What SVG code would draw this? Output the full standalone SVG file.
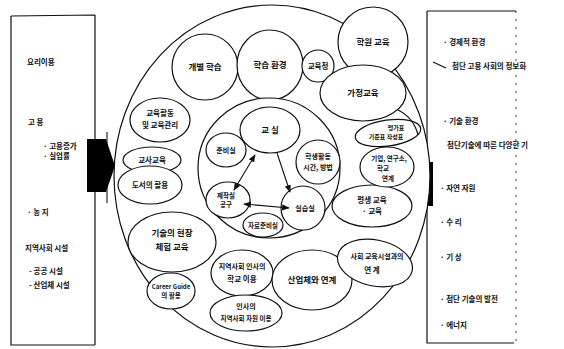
<svg xmlns="http://www.w3.org/2000/svg" width="564" height="349" viewBox="0 0 564 349">
<defs>
<style>
.n{fill:#fff;stroke:#111;stroke-width:1.2}
.o{fill:none;stroke:#111;stroke-width:1.2}
.t{font-family:"Noto Sans CJK KR","Noto Sans",sans-serif;font-size:8.5px;font-weight:600;fill:#111;text-anchor:middle}
.s{font-family:"Noto Sans CJK KR","Noto Sans",sans-serif;font-size:7.5px;font-weight:600;fill:#111}
.c{stroke:#111;stroke-width:1.1;fill:none}
</style>
<marker id="ah" viewBox="0 0 10 10" refX="9" refY="5" markerWidth="7" markerHeight="7" orient="auto-start-reverse">
<path d="M0,1 L10,5 L0,9 z" fill="#111"/>
</marker>
</defs>
<rect width="564" height="349" fill="#fff"/>

<g id="left-panel">
<path class="o" d="M11,16 L95,15 M11,16 L11,345 L95,345 M95,15 L95,345"/>
<text class="s" x="27" y="65">요리이용</text>
<text class="s" x="28" y="125">고  용</text>
<text class="s" x="43" y="149">· 고용증가</text>
<text class="s" x="43" y="159">· 실업률</text>
<text class="s" x="27" y="215">· 농  지</text>
<text class="s" x="25" y="251">지역사회 시설</text>
<text class="s" x="29" y="274">- 공공 시설</text>
<text class="s" x="29" y="288">- 산업체 시설</text>
</g>

<g id="right-panel">
<path class="o" d="M427,11 L516,11 M427,11 L427,343 L514,343"/>
<path d="M516,11 L516,343" stroke="#111" stroke-width="0.8" stroke-dasharray="2,6" fill="none"/>
<path class="o" d="M433,62 L446,68"/>
<text class="s" x="443" y="45">· 경제적 환경</text>
<text class="s" x="452" y="69">첨단 고용 사회의 정보화</text>
<text class="s" x="443" y="124">· 기술 환경</text>
<text class="s" x="447" y="148">첨단기술에 따른 다양한 기</text>
<text class="s" x="440" y="191">· 자연 자원</text>
<text class="s" x="440" y="225">· 수 리</text>
<text class="s" x="440" y="260">· 기 상</text>
<text class="s" x="440" y="302">· 첨단 기술의 발전</text>
<text class="s" x="440" y="328">· 에너지</text>
</g>

<g id="left-link">
<polygon points="87,139 106,139 115,166 106,192 87,192" fill="#000"/>
<path d="M107,132 L107,203" stroke="#000" stroke-width="1"/>
</g>
<g id="right-link">
<polygon points="433,162 418,162 410,184 418,206 433,206" fill="#000"/>
</g>

<g id="outer-circle"><ellipse class="n" cx="272" cy="176" rx="158" ry="171"/></g>

<g id="n-gaebyeol"><ellipse class="n" cx="205" cy="67" rx="33" ry="33"/><text class="t" x="205" y="70">개별 학습</text></g>
<g id="n-hakseup"><ellipse class="n" cx="270" cy="65" rx="33" ry="35"/><text class="t" x="270" y="68">학습 환경</text></g>
<g id="n-gyoyukcheong"><ellipse class="n" cx="318" cy="66" rx="16" ry="16"/><text class="t" x="318" y="69" style="font-size:7.5px">교육청</text></g>
<g id="n-hagwon"><ellipse class="n" cx="373" cy="42" rx="35" ry="35"/><text class="t" x="373" y="45">학원 교육</text></g>
<g id="n-gajeong"><ellipse class="n" cx="363" cy="93" rx="43" ry="28"/><text class="t" x="363" y="96">가정교육</text></g>
<g id="n-hwaldong"><ellipse class="n" cx="160" cy="120" rx="30" ry="22"/><text class="t" x="160" y="116" style="font-size:7.5px">교육활동</text><text class="t" x="160" y="128" style="font-size:7.5px">및 교육관리</text></g>
<g id="n-gyosa"><ellipse class="n" cx="152" cy="160" rx="29" ry="13"/><text class="t" x="152" y="163" style="font-size:7.5px">교사교육</text></g>
<g id="n-doseo"><ellipse class="n" cx="150" cy="185" rx="32" ry="19"/><text class="t" x="150" y="188" style="font-size:7.5px">도서의 활용</text></g>
<g id="n-hyeonjang"><ellipse class="n" cx="172" cy="242" rx="44" ry="30"/><text class="t" x="172" y="236">기술의 현장</text><text class="t" x="172" y="250">체험 교육</text></g>
<g id="n-career"><ellipse class="n" cx="171" cy="291" rx="24" ry="18"/><text class="t" x="171" y="289" style="font-size:6px">Career Guide</text><text class="t" x="171" y="298" style="font-size:6.5px">의 활용</text></g>

<g id="n-inner"><ellipse class="n" cx="269" cy="168" rx="71" ry="70"/></g>
<g id="n-gyosil"><ellipse class="n" cx="270" cy="130" rx="30" ry="23"/><text class="t" x="270" y="133">교 실</text></g>
<g id="n-junbi"><ellipse class="n" cx="226" cy="150" rx="20" ry="17"/><text class="t" x="226" y="153" style="font-size:7px">준비실</text></g>
<g id="n-haksaeng"><ellipse class="n" cx="318" cy="162" rx="22" ry="22"/><text class="t" x="318" y="159" style="font-size:7px">학생활동</text><text class="t" x="318" y="170" style="font-size:7px">시간, 방법</text></g>
<g id="n-jejak"><ellipse class="n" cx="228" cy="200" rx="22" ry="18"/><text class="t" x="226" y="198" style="font-size:6.5px">제작실</text><text class="t" x="226" y="207" style="font-size:6.5px">공구</text></g>
<g id="n-silseup"><ellipse class="n" cx="303" cy="208" rx="22" ry="22"/><text class="t" x="305" y="211" style="font-size:7px">실습실</text></g>
<g id="n-jaryo"><ellipse class="n" cx="263" cy="225" rx="20" ry="12"/><text class="t" x="263" y="228" style="font-size:6.5px">자료준비실</text></g>

<g id="n-jiyeok"><ellipse class="n" cx="242" cy="273" rx="31" ry="23"/><text class="t" x="242" y="269" style="font-size:7px">지역사회 인사의</text><text class="t" x="242" y="282" style="font-size:7.5px">학교 이용</text></g>
<g id="n-jawon"><ellipse class="n" cx="246" cy="313" rx="36" ry="18"/><text class="t" x="246" y="309" style="font-size:7px">인사의</text><text class="t" x="246" y="321" style="font-size:6.5px">지역사회 자원 이용</text></g>
<g id="n-saneop"><ellipse class="n" cx="312" cy="280" rx="40" ry="30"/><text class="t" x="312" y="283">산업체와 연계</text></g>
<g id="n-sahoe"><ellipse class="n" cx="375" cy="263" rx="38" ry="23" transform="rotate(12 375 263)"/><text class="t" x="377" y="259" style="font-size:7px">사회 교육시설과의</text><text class="t" x="372" y="273" style="font-size:7.5px">연 계</text></g>
<g id="n-pyeongsaeng"><ellipse class="n" cx="372" cy="206" rx="40" ry="21"/><text class="t" x="372" y="203" style="font-size:7.5px">평생 교육</text><text class="t" x="372" y="214" style="font-size:7.5px">· 교육</text></g>
<g id="n-gieop"><ellipse class="n" cx="387" cy="167" rx="27" ry="20"/><text class="t" x="389" y="161" style="font-size:6.5px">기업, 연구소,</text><text class="t" x="383" y="171" style="font-size:6.5px">학교</text><text class="t" x="388" y="181" style="font-size:6.5px">연계</text></g>
<g id="n-pyeongga"><ellipse class="n" cx="388" cy="133" rx="33" ry="13" transform="rotate(-8 388 133)"/><text class="t" x="396" y="130" style="font-size:6px">평가표</text><text class="t" x="386" y="139" style="font-size:6px">기준표 작성표</text></g>
<path class="o" d="M398,110 Q414,118 418,135"/>

<g id="connectors">
<line class="c" x1="255" y1="155" x2="234" y2="190" marker-start="url(#ah)" marker-end="url(#ah)"/>
<line class="c" x1="277" y1="153" x2="290" y2="192" marker-end="url(#ah)"/>
<line class="c" x1="244" y1="204" x2="289" y2="208" marker-start="url(#ah)" marker-end="url(#ah)"/>
</g>
</svg>
